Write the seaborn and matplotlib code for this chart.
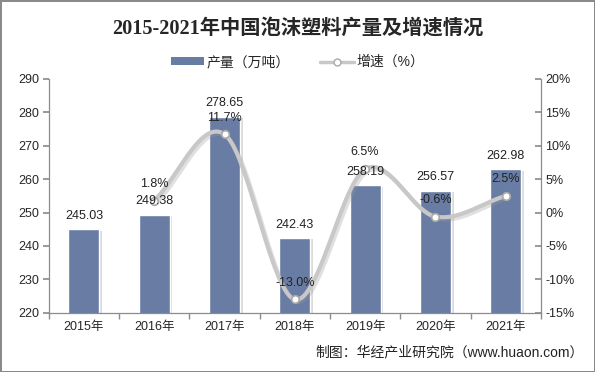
import numpy as np
import pandas as pd
import matplotlib
matplotlib.use("Agg")
import matplotlib.pyplot as plt
import matplotlib.patheffects as pe
import seaborn as sns
from matplotlib.patches import Patch
from matplotlib.lines import Line2D

# ---- data ----
years = ["2015年", "2016年", "2017年", "2018年", "2019年", "2020年", "2021年"]
output = [245.03, 249.38, 278.65, 242.43, 258.19, 256.57, 262.98]   # 产量（万吨）
growth = [None, 1.8, 11.7, -13.0, 6.5, -0.6, 2.5]                     # 增速（%）

bar_color = "#687CA4"
line_color = "#C8C8C8"
axis_color = "#8C8C8C"

sns.set_theme(style="white")
plt.rcParams['font.family'] = ['Liberation Sans', 'Noto Sans CJK SC', 'DejaVu Sans']
plt.rcParams['axes.unicode_minus'] = False

df = pd.DataFrame({"year": years, "output": output, "growth": growth})

fig = plt.figure(figsize=(5.95, 3.72), dpi=100)
fig.patch.set_edgecolor("#8A8A8A")
fig.patch.set_linewidth(2)
ax = fig.add_axes([0.082, 0.159, 0.827, 0.629])

sns.barplot(data=df, x="year", y="output", color=bar_color, width=0.44,
            saturation=1, ax=ax, zorder=2)
for p in ax.patches:
    p.set_path_effects([pe.SimplePatchShadow(offset=(2, -1), shadow_rgbFace="#808080", alpha=0.28),
                        pe.Normal()])
ax.set_ylim(220, 290)
ax.set_yticks(np.arange(220, 291, 10))
ax.set_xlim(-0.5, 6.5)
ax.set_xlabel("")
ax.set_ylabel("")

for s in ["top", "right"]:
    ax.spines[s].set_visible(False)
for s in ["left", "bottom"]:
    ax.spines[s].set_color(axis_color)
    ax.spines[s].set_linewidth(0.9)
ax.tick_params(axis="y", length=4, color=axis_color, labelsize=9, pad=3, left=True)
ax.tick_params(axis="x", length=0, labelsize=9, pad=6)
ax.set_xticks(np.arange(7), years)
# category boundary ticks on the x axis
ax.set_xticks(np.arange(-0.5, 7, 1), minor=True)
ax.tick_params(axis="x", which="minor", length=4, color=axis_color, bottom=True)

# ---- growth line on the right axis ----
ax2 = ax.twinx()
ax2.set_ylim(-15, 20)
ax2.set_yticks(np.arange(-15, 21, 5), [f"{t}%" for t in range(-15, 21, 5)])
for s in ["top", "left", "bottom"]:
    ax2.spines[s].set_visible(False)
ax2.spines["right"].set_color(axis_color)
ax2.spines["right"].set_linewidth(0.9)
ax2.tick_params(axis="y", length=4, color=axis_color, labelsize=9, pad=3, right=True, direction="in")

gx = np.array([i for i, g in enumerate(growth) if g is not None], dtype=float)
gy = np.array([g for g in growth if g is not None], dtype=float)

# smoothed curve (Catmull-Rom through the points, like Excel's smoothed line)
def smooth(x, y, n=40):
    px = np.concatenate([[2 * x[0] - x[1]], x, [2 * x[-1] - x[-2]]])
    py = np.concatenate([[2 * y[0] - y[1]], y, [2 * y[-1] - y[-2]]])
    xs, ys = [], []
    t = np.linspace(0, 1, n)
    for k in range(1, len(px) - 2):
        for arr, out in ((px, xs), (py, ys)):
            p0, p1, p2, p3 = arr[k - 1], arr[k], arr[k + 1], arr[k + 2]
            out.append(0.5 * (2 * p1 + (-p0 + p2) * t + (2 * p0 - 5 * p1 + 4 * p2 - p3) * t ** 2
                              + (-p0 + 3 * p1 - 3 * p2 + p3) * t ** 3))
    return np.concatenate(xs), np.concatenate(ys)

sx, sy = smooth(gx, gy)
ax2.plot(sx + 0.03, sy - 0.35, color="#9A9A9A", lw=3, alpha=0.3, zorder=2)
sns.lineplot(x=sx, y=sy, color=line_color, lw=3, ax=ax2, zorder=3, sort=False)
ax2.scatter(gx, gy, s=30, facecolor="white", edgecolor="#A8A8A8", linewidth=1.2, zorder=4)
for x, y in zip(gx, gy):
    ax2.text(x, y + 1.6, f"{y:.1f}%", ha="center", va="bottom", fontsize=9, color="#222222", zorder=6)
ax2.set_ylabel("")

# bar value labels drawn on top of the line
for i, v in enumerate(output):
    ax2.annotate(f"{v:.2f}", xy=(i, v + 2.2), xycoords=ax.transData, ha="center", va="bottom",
                 fontsize=9, color="#222222", zorder=6)

# ---- title, legend, source ----
fig.text(0.5, 0.922, "2015-2021年中国泡沫塑料产量及增速情况", ha="center", va="center",
         fontsize=14.6, fontweight="bold", family=['Liberation Serif', 'Noto Sans CJK SC'])
handles = [Patch(facecolor=bar_color, edgecolor="none"),
           Line2D([0], [0], color=line_color, lw=2.5, marker="o", markersize=5,
                  markerfacecolor="white", markeredgecolor="#A8A8A8")]
fig.legend(handles, ["产量（万吨）", "增速（%）"], loc="center", bbox_to_anchor=(0.5, 0.833),
           ncol=2, frameon=False, fontsize=10, handlelength=2.4, handleheight=0.5,
           columnspacing=2.2, handletextpad=0.2)
fig.text(0.982, 0.052, "制图：华经产业研究院（www.huaon.com）", ha="right", va="center",
         fontsize=10, color="#222222")

fig.savefig("out.png", dpi=100)
